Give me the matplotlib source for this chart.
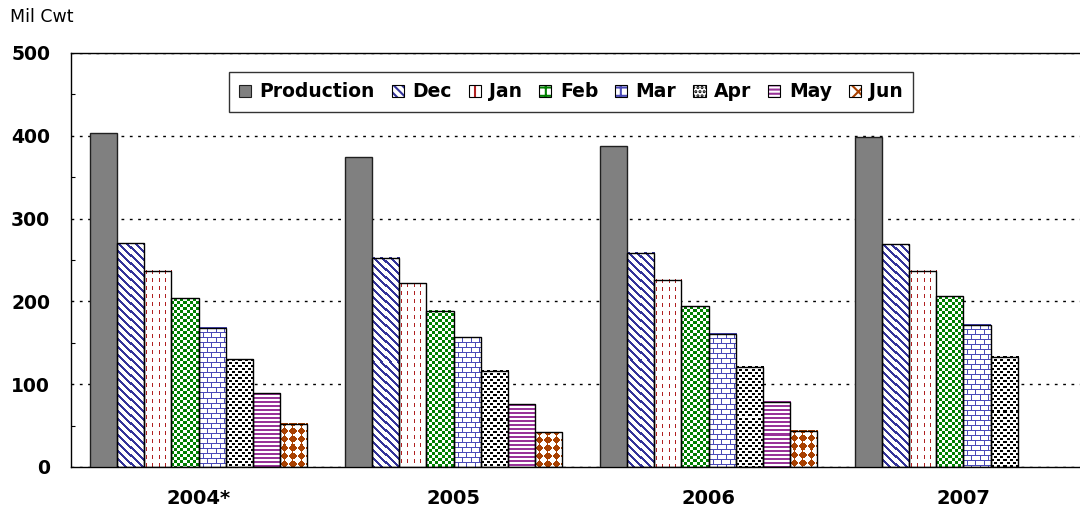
import numpy as np
import matplotlib
matplotlib.use('Agg')
import matplotlib.pyplot as plt
from matplotlib.colors import ListedColormap
from matplotlib.patches import Patch

# values (Mil Cwt)
years = ['2004*', '2005', '2006', '2007']
series = ['Production', 'Dec', 'Jan', 'Feb', 'Mar', 'Apr', 'May', 'Jun']
production = [403, 374, 388, 399]
dec = [270, 253, 259, 269]
jan = [237, 222, 226, 237]
feb = [204, 189, 194, 206]
mar = [168, 157, 161, 172]
apr = [130, 116, 121, 133]
may = [89, 76, 79, np.nan]
jun = [52, 42, 44, np.nan]
values = [production, dec, jan, feb, mar, apr, may, jun]


# small pixel tiles for the fill patterns (1 = coloured pixel)
def tile_diag(p=8, t=3):
    r, c = np.mgrid[0:p, 0:p]
    return ((c - r) % p < t).astype(float)

def tile_dash():
    t = np.zeros((8, 6))
    t[0:4, 2] = 1
    return t

def tile_checker(s=3):
    r, c = np.mgrid[0:2 * s, 0:2 * s]
    return ((r // s + c // s) % 2).astype(float)

def tile_brick():
    t = np.zeros((10, 8))
    t[0, :] = 1
    t[5, :] = 1
    t[1:5, 0] = 1
    t[6:10, 4] = 1
    return t

def tile_dots():
    t = np.zeros((6, 6))
    t[0:2, 0:3] = 1
    t[3:5, 3:6] = 1
    return t

def tile_hlines():
    t = np.zeros((4, 1))
    t[0:2, 0] = 1
    return t

def tile_diamond(s=4):
    r, c = np.mgrid[0:4 * s, 0:4 * s]
    return (((r + c) // (2 * s) + (r - c) // (2 * s)) % 2).astype(float)


styles = {
    'Dec': ('#333399', tile_diag(), '\\\\\\\\'),
    'Jan': ('#b02020', tile_dash(), '|'),
    'Feb': ('#008000', tile_checker(), '++'),
    'Mar': ('#4a4ab8', tile_brick(), '++'),
    'Apr': ('#000000', tile_dots(), '....'),
    'May': ('#993399', tile_hlines(), '----'),
    'Jun': ('#a84000', tile_diamond(), 'xx'),
}

fig = plt.figure(figsize=(10.8, 5.12), dpi=100)
ax = fig.add_axes([71 / 1080, 45 / 512, 1009 / 1080, 414 / 512])

xmax = -0.5 + 1009 / 255
px_x = 1009 / (xmax + 0.5)
px_y = 414 / 500.0

w = 0.106
x = np.arange(len(years))

for k, name in enumerate(series):
    vals = values[k]
    for i in range(len(years)):
        v = vals[i]
        if np.isnan(v):
            continue
        x0 = x[i] - 4 * w + k * w
        if name == 'Production':
            ax.bar(x0, v, w, align='edge', color='#808080', edgecolor='#202020',
                   linewidth=1, zorder=3)
            continue
        col, tile, _ = styles[name]
        wp = int(round(w * px_x))
        hp = int(round(v * px_y))
        reps = (hp // tile.shape[0] + 2, wp // tile.shape[1] + 2)
        img = np.tile(tile, reps)[:hp, :wp]
        ax.imshow(img, extent=(x0, x0 + w, 0, v), cmap=ListedColormap(['white', col]),
                  vmin=0, vmax=1, interpolation='nearest', aspect='auto',
                  origin='upper', zorder=2)
        ax.bar(x0, v, w, align='edge', facecolor='none', edgecolor='black',
               linewidth=1, zorder=3)

ax.set_xlim(-0.5, xmax)
ax.set_ylim(0, 500)

ax.set_yticks([0, 100, 200, 300, 400, 500])
ax.set_yticks(np.arange(50, 500, 100), minor=True)
ax.tick_params(axis='y', which='major', length=0, pad=15, labelsize=13.5)
ax.tick_params(axis='y', which='minor', direction='in', length=3, width=0.8)
for lab in ax.get_yticklabels():
    lab.set_fontweight('bold')

ax.set_xticks(x)
ax.set_xticklabels(years, fontsize=14, fontweight='bold')
ax.tick_params(axis='x', length=0, pad=16)

ax.yaxis.grid(True, linestyle=(0, (2, 4)), color='black', linewidth=1)
ax.set_axisbelow(True)

for s in ['top', 'left', 'bottom']:
    ax.spines[s].set_color('black')
    ax.spines[s].set_linewidth(1)
ax.spines['right'].set_visible(False)

plt.rcParams['hatch.linewidth'] = 1.5
handles = [Patch(facecolor='#808080', edgecolor='#202020', linewidth=0.8)]
for name in series[1:]:
    col, _, h = styles[name]
    handles.append((Patch(facecolor='white', edgecolor=col, hatch=h, linewidth=0),
                    Patch(facecolor='none', edgecolor='black', linewidth=0.8)))

leg = ax.legend(handles, series, loc='center', bbox_to_anchor=(0.4955, 0.906),
                ncol=8, frameon=True, fancybox=False, edgecolor='black',
                handlelength=0.65, handleheight=0.65, handletextpad=0.45,
                columnspacing=0.9, borderpad=0.55,
                prop={'weight': 'bold', 'size': 13.5})
leg.get_frame().set_linewidth(1)

fig.text(10 / 1080, 1 - 17 / 512, 'Mil Cwt', fontsize=12.5, va='center', ha='left')

plt.savefig('out.png', dpi=100)
